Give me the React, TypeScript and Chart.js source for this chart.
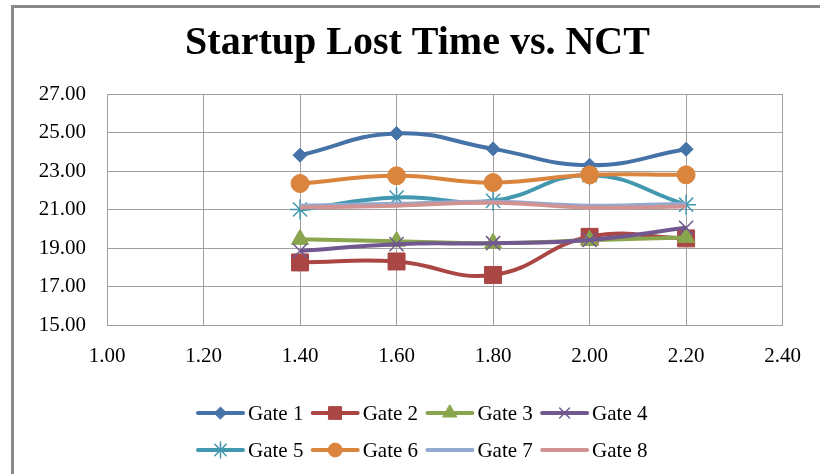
import React, { useEffect, useRef } from 'react';
import { Chart, registerables } from 'chart.js';
import { drawPoint } from 'chart.js/helpers';

Chart.register(...registerables);

// NCT values on the x axis
const nct = [1.4, 1.6, 1.8, 2.0, 2.2];

const gateNames = ['Gate 1', 'Gate 2', 'Gate 3', 'Gate 4', 'Gate 5', 'Gate 6', 'Gate 7', 'Gate 8'];

// Startup lost time (s) per gate
const gate1 = [23.82, 24.95, 24.15, 23.3, 24.13];
const gate2 = [18.25, 18.3, 17.6, 19.58, 19.5];
const gate3 = [19.45, 19.35, 19.25, 19.4, 19.55];
const gate4 = [18.85, 19.2, 19.25, 19.42, 20.05];
const gate5 = [21.0, 21.62, 21.45, 22.78, 21.25];
const gate6 = [22.35, 22.75, 22.4, 22.8, 22.8];
const gate7 = [21.2, 21.3, 21.4, 21.2, 21.3];
const gate8 = [21.1, 21.2, 21.35, 21.1, 21.15];

const xTicks = [1.0, 1.2, 1.4, 1.6, 1.8, 2.0, 2.2, 2.4];
const yTicks = [15, 17, 19, 21, 23, 25, 27];

const titleText = 'Startup Lost Time vs. NCT';

const series = [gate1, gate2, gate3, gate4, gate5, gate6, gate7, gate8];
const colors = ['#4572A7', '#AA4643', '#89A54E', '#71588F', '#4198AF', '#DB843D', '#93A9CF', '#D19392'];
const styles: any[] = ['rectRot', 'rect', 'triangle', 'crossRot', 'star', 'circle', 'circle', 'circle'];
const radii = [7, 12, 10, 10, 10, 9, 0, 0];
const legendRadii = [6, 9, 8, 7, 8, 7, 0, 0];

const FONT = "'Liberation Serif', 'Times New Roman', serif";

// Bold heading centred over the chart frame
const heading = {
  id: 'heading',
  afterDraw(chart: any) {
    const ctx = chart.ctx;
    ctx.save();
    ctx.fillStyle = '#000';
    ctx.font = `bold 40px ${FONT}`;
    ctx.textAlign = 'center';
    ctx.textBaseline = 'middle';
    ctx.fillText(titleText, 417.5, 44);
    ctx.restore();
  },
};

// Two-row legend laid out on a fixed four-column grid
const gridLegend = {
  id: 'gridLegend',
  afterDraw(chart: any) {
    const ctx = chart.ctx;
    ctx.save();
    chart.data.datasets.forEach((ds: any, i: number) => {
      const col = i % 4;
      const row = Math.floor(i / 4);
      const x0 = 198 + col * 114.7;
      const y = 413 + row * 37;
      ctx.strokeStyle = ds.borderColor;
      ctx.lineWidth = 4;
      ctx.lineCap = 'round';
      ctx.beginPath();
      ctx.moveTo(x0, y);
      ctx.lineTo(x0 + 45, y);
      ctx.stroke();
      if (legendRadii[i] > 0) {
        ctx.fillStyle = ds.pointBackgroundColor;
        ctx.strokeStyle = ds.pointBorderColor;
        ctx.lineWidth = ds.pointBorderWidth;
        drawPoint(ctx, { pointStyle: ds.pointStyle, rotation: 0, radius: legendRadii[i], borderWidth: ds.pointBorderWidth }, x0 + 22.5, y);
      }
      ctx.fillStyle = '#000';
      ctx.font = `21px ${FONT}`;
      ctx.textAlign = 'left';
      ctx.textBaseline = 'middle';
      ctx.fillText(ds.label, x0 + 50, y + 1);
    });
    ctx.restore();
  },
};

export default function App() {
  const ref = useRef<HTMLCanvasElement>(null);

  useEffect(() => {
    if (!ref.current) return;
    const chart = new Chart(ref.current, {
      type: 'line',
      data: {
        datasets: series.map((vals, i) => ({
          label: gateNames[i],
          data: nct.map((x, j) => ({ x, y: vals[j] })),
          borderColor: colors[i],
          backgroundColor: colors[i],
          pointBackgroundColor: colors[i],
          pointBorderColor: colors[i],
          pointBorderWidth: i === 3 || i === 4 ? 1.5 : 1,
          pointStyle: styles[i],
          pointRadius: radii[i],
          pointHoverRadius: radii[i],
          borderWidth: 4,
          tension: 0.45,
          fill: false,
          order: series.length - i,
        })),
      },
      plugins: [heading, gridLegend],
      options: {
        responsive: false,
        animation: false,
        layout: { padding: { left: 20, right: 32, top: 94, bottom: 104 } },
        plugins: {
          legend: { display: false },
          tooltip: { enabled: false },
          title: { display: false },
        },
        scales: {
          x: {
            type: 'linear',
            min: xTicks[0],
            max: xTicks[xTicks.length - 1],
            afterBuildTicks: (scale: any) => {
              scale.ticks = xTicks.map((v) => ({ value: v }));
            },
            afterFit: (scale: any) => {
              scale.height = 45;
            },
            ticks: {
              color: '#000',
              font: { family: FONT, size: 21 },
              padding: 19,
              callback: (v: any) => Number(v).toFixed(2),
            },
            grid: { color: '#a0a0a0', lineWidth: 1, drawTicks: false },
            border: { color: '#a0a0a0', width: 1 },
          },
          y: {
            min: yTicks[0],
            max: yTicks[yTicks.length - 1],
            afterBuildTicks: (scale: any) => {
              scale.ticks = yTicks.map((v) => ({ value: v }));
            },
            afterFit: (scale: any) => {
              scale.width = 87;
            },
            ticks: {
              color: '#000',
              font: { family: FONT, size: 21 },
              padding: 21,
              callback: (v: any) => Number(v).toFixed(2),
            },
            grid: { color: '#a0a0a0', lineWidth: 1, drawTicks: false },
            border: { color: '#a0a0a0', width: 1 },
          },
        },
      },
    });
    return () => chart.destroy();
  }, []);

  return (
    <div style={{ position: 'fixed', left: 0, top: 0, width: 820, height: 474, overflow: 'hidden', background: '#fff' }}>
      <div
        style={{
          position: 'absolute',
          left: 11,
          top: 5,
          width: 900,
          height: 600,
          borderLeft: '3px solid #8a8a8a',
          borderTop: '3px solid #8a8a8a',
        }}
      />
      <canvas ref={ref} width={820} height={474} style={{ position: 'absolute', left: 0, top: 0 }} />
    </div>
  );
}
